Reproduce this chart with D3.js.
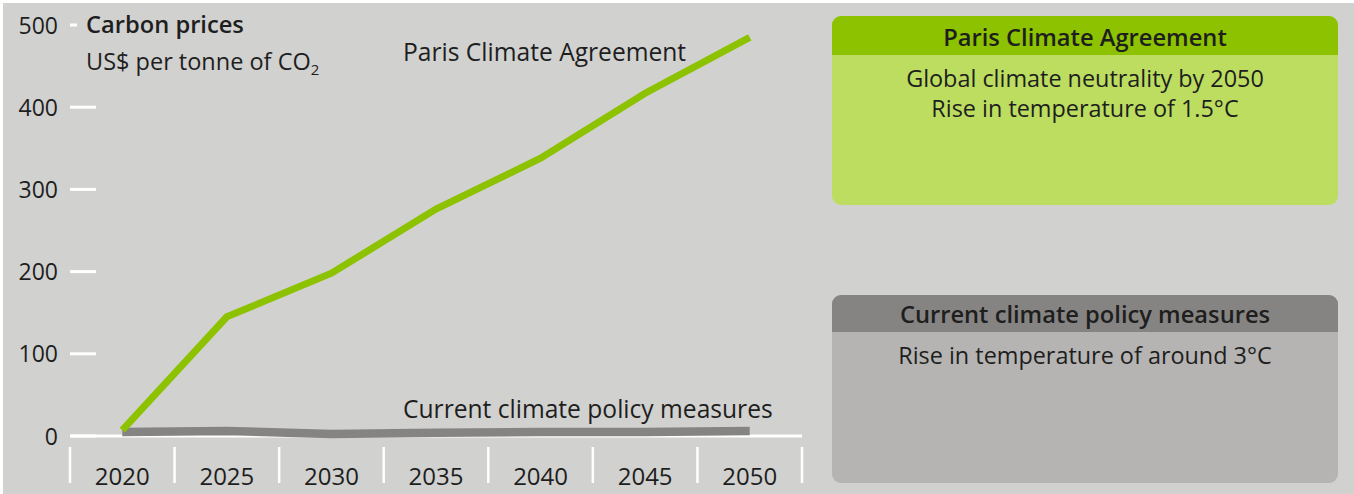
<!DOCTYPE html>
<html>
<head>
<meta charset="utf-8">
<script src="https://cdn.jsdelivr.net/npm/d3@7"></script>
<style>
  html, body { margin: 0; padding: 0; background: #ffffff; }
  svg { display: block; }
  text { font-family: "Open Sans", "Noto Sans", sans-serif; fill: #1e1e1e; }
</style>
</head>
<body>
<svg id="chart" width="1354" height="494"></svg>
<script>
// Carbon price paths, US$ per tonne of CO2
const years = ["2020", "2025", "2030", "2035", "2040", "2045", "2050"];
const parisPrices = [7, 145, 198, 276, 338, 417, 485];
const currentPrices = [5, 6, 2.5, 4, 5, 5, 6];
const yTicks = [0, 100, 200, 300, 400, 500];

const scenarios = [
  { title: "Paris Climate Agreement", lines: ["Global climate neutrality by 2050", "Rise in temperature of 1.5°C"],
    header: "#8cc200", body: "#bcdd60" },
  { title: "Current climate policy measures", lines: ["Rise in temperature of around 3°C"],
    header: "#858482", body: "#b5b4b2" }
];

const W = 1354, H = 494;
const svg = d3.select("#chart");

// panel background
svg.append("rect").attr("x", 3).attr("y", 3).attr("width", W - 3).attr("height", H - 3).attr("fill", "#d1d1cf");

const x = d3.scaleBand().domain(years).range([70, 802]).padding(0);
const y = d3.scaleLinear().domain([0, 500]).range([436, 25]);
const cx = d => x(d) + x.bandwidth() / 2;

// y axis: labels and short white tick marks
const yAxis = svg.append("g");
yAxis.selectAll("line").data(yTicks).join("line")
  .attr("x1", 70).attr("x2", d => d === 500 ? 77 : 96)
  .attr("y1", d => y(d)).attr("y2", d => y(d))
  .attr("stroke", "#ffffff").attr("stroke-width", 3);
yAxis.selectAll("text").data(yTicks).join("text")
  .attr("x", 58).attr("y", d => y(d) + 8.5)
  .attr("text-anchor", "end").attr("font-size", 23)
  .text(d => d);

// x axis baseline and category separators
svg.append("line").attr("x1", 70).attr("x2", 802).attr("y1", y(0)).attr("y2", y(0))
  .attr("stroke", "#ffffff").attr("stroke-width", 3);
const edges = years.map(d => x(d)).concat([x(years[years.length - 1]) + x.bandwidth()]);
svg.append("g").selectAll("line").data(edges).join("line")
  .attr("x1", d => d).attr("x2", d => d).attr("y1", 447).attr("y2", 483)
  .attr("stroke", "#ffffff").attr("stroke-width", 2.5);
svg.append("g").selectAll("text").data(years).join("text")
  .attr("x", d => cx(d)).attr("y", 485)
  .attr("text-anchor", "middle").attr("font-size", 24)
  .text(d => d);

// axis title
svg.append("text").attr("x", 86).attr("y", 33).attr("font-size", 23.7).attr("font-weight", 600)
  .text("Carbon prices");
const sub = svg.append("text").attr("x", 86).attr("y", 70).attr("font-size", 23.5);
sub.append("tspan").text("US$ per tonne of CO");
sub.append("tspan").attr("font-size", 15).attr("dy", 5).text("2");

// price lines
const line = d3.line().x((d, i) => cx(years[i])).y(d => y(d));
svg.append("path").datum(currentPrices).attr("d", line)
  .attr("fill", "none").attr("stroke", "#858482").attr("stroke-width", 8.5)
  .attr("stroke-linejoin", "round");
svg.append("path").datum(parisPrices).attr("d", line)
  .attr("fill", "none").attr("stroke", "#8cc200").attr("stroke-width", 7)
  .attr("stroke-linejoin", "miter");

// line labels
svg.append("text").attr("x", 403).attr("y", 61).attr("font-size", 24.6).attr("font-weight", 500)
  .attr("fill", "#222").text("Paris Climate Agreement");
svg.append("text").attr("x", 403).attr("y", 418).attr("font-size", 24.6).attr("font-weight", 500)
  .attr("fill", "#222").text("Current climate policy measures");

// scenario boxes
const boxX = 832, boxW = 506, r = 9;
const boxTops = [16, 295], boxH = [189, 188], headH = [39, 37];
scenarios.forEach((s, i) => {
  const g = svg.append("g").attr("transform", `translate(${boxX},${boxTops[i]})`);
  g.append("rect").attr("width", boxW).attr("height", boxH[i]).attr("rx", r).attr("fill", s.body);
  const hh = headH[i];
  g.append("path").attr("fill", s.header)
    .attr("d", `M0,${hh}V${r}A${r},${r} 0 0 1 ${r},0H${boxW - r}A${r},${r} 0 0 1 ${boxW},${r}V${hh}Z`);
  g.append("text").attr("x", boxW / 2).attr("y", hh - 9).attr("text-anchor", "middle")
    .attr("font-size", 23.7).attr("font-weight", 600).text(s.title);
  g.selectAll("text.body").data(s.lines).join("text").attr("class", "body")
    .attr("x", boxW / 2).attr("y", (d, k) => hh + 32 + k * 30).attr("text-anchor", "middle")
    .attr("font-size", 23.4).text(d => d);
});
</script>
</body>
</html>
